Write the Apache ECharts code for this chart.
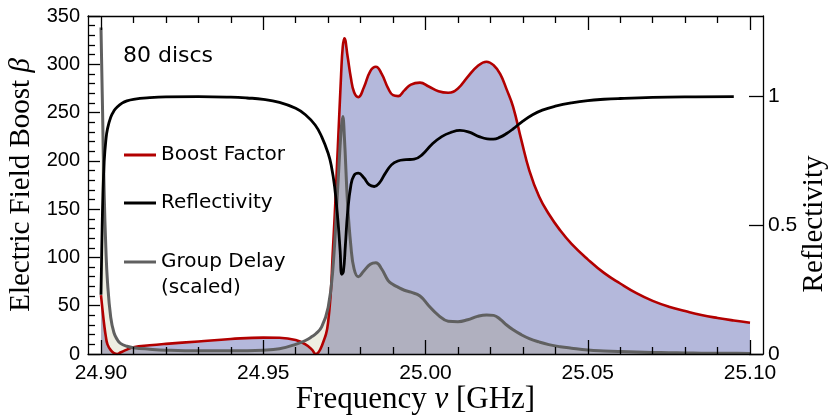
<!DOCTYPE html>
<html>
<head>
<meta charset="utf-8">
<script src="https://cdn.jsdelivr.net/npm/echarts@6/dist/echarts.min.js"></script>
<style>
  html, body { margin: 0; padding: 0; background: #ffffff; }
  #chart { width: 829px; height: 415px; }
</style>
</head>
<body>
<div id="chart"></div>
<script>
// Frequency grid (GHz) shared by the boost factor and the group delay
const freq = [24.9000, 24.9005, 24.9010, 24.9015, 24.9020, 24.9030, 24.9040, 24.9050, 24.9060, 24.9080,
  24.9100, 24.9150, 24.9200, 24.9300, 24.9400, 24.9500, 24.9550, 24.9600, 24.9630, 24.9650,
  24.9662, 24.9680, 24.9700, 24.9715, 24.9730, 24.9740, 24.9745, 24.9750, 24.9760, 24.9770,
  24.9780, 24.9793, 24.9810, 24.9830, 24.9847, 24.9865, 24.9885, 24.9900, 24.9916, 24.9935,
  24.9955, 24.9983, 25.0010, 25.0040, 25.0070, 25.0100, 25.0130, 25.0160, 25.0188, 25.0210,
  25.0230, 25.0250, 25.0270, 25.0295, 25.0320, 25.0350, 25.0380, 25.0415, 25.0450, 25.0500,
  25.0550, 25.0600, 25.0650, 25.0700, 25.0750, 25.0800, 25.0850, 25.0900, 25.0950, 25.1000];

// Electric field boost factor beta
const boost = [61, 45, 30, 18, 10, 4, 1, 0, 1.5, 4.5,
  7, 9, 10.5, 13, 15.5, 17, 16.8, 14.5, 10, 4.5,
  0, 8, 33, 110, 215, 290, 318, 327, 308, 286,
  271, 266, 276, 293, 297.5, 290, 275, 268, 267, 273,
  279, 281, 277, 272, 270.5, 275, 287, 298, 302.7, 299,
  290, 274, 256, 222, 190, 163, 145, 128, 114, 98,
  84, 73, 63, 55, 49, 44.5, 40.4, 37.3, 34.7, 32.4];

// Group delay, scaled onto the boost axis
const groupDelay = [338, 250, 165, 110, 75, 38, 22, 15, 11, 8,
  6.5, 5, 4, 3.3, 3.3, 4, 5.5, 10, 14, 18,
  21, 28, 48, 90, 175, 232, 246, 225, 155, 112,
  88, 80, 86, 93, 94.5, 88, 76, 72, 69, 66,
  64, 60, 50, 40, 34, 33.5, 35.5, 39, 40.5, 40,
  36, 30, 25, 20, 16, 12.5, 9.7, 7.5, 6, 4.2,
  3.2, 2.5, 2, 1.6, 1.3, 1.1, 0.9, 0.8, 0.7, 0.6];

// Reflectivity (right axis)
const reflFreq = [24.9000, 24.9003, 24.9006, 24.9010, 24.9015, 24.9020, 24.9030, 24.9040, 24.9050, 24.9065,
  24.9080, 24.9100, 24.9150, 24.9200, 24.9300, 24.9400, 24.9450, 24.9500, 24.9550, 24.9600,
  24.9630, 24.9660, 24.9680, 24.9700, 24.9710, 24.9720, 24.9730, 24.9737, 24.9742, 24.9747,
  24.9753, 24.9760, 24.9770, 24.9780, 24.9793, 24.9810, 24.9826, 24.9842, 24.9858, 24.9875,
  24.9895, 24.9915, 24.9940, 24.9965, 24.9990, 25.0020, 25.0050, 25.0080, 25.0106, 25.0135,
  25.0165, 25.0190, 25.0209, 25.0230, 25.0250, 25.0270, 25.0300, 25.0330, 25.0360, 25.0400,
  25.0450, 25.0500, 25.0550, 25.0600, 25.0700, 25.0800, 25.0950];
const reflectivity = [0.23, 0.45, 0.62, 0.75, 0.83, 0.875, 0.92, 0.945, 0.96, 0.975,
  0.984, 0.99, 0.996, 0.999, 1.0, 0.998, 0.995, 0.99, 0.978, 0.955,
  0.93, 0.89, 0.845, 0.78, 0.73, 0.65, 0.52, 0.40, 0.31, 0.32,
  0.42, 0.55, 0.655, 0.695, 0.703, 0.685, 0.658, 0.651, 0.665, 0.70,
  0.735, 0.75, 0.755, 0.757, 0.775, 0.815, 0.845, 0.862, 0.869, 0.862,
  0.845, 0.836, 0.835, 0.843, 0.857, 0.875, 0.905, 0.93, 0.948, 0.963,
  0.976, 0.985, 0.99, 0.993, 0.997, 0.999, 1.0];

// Tick positions
const xTicks = [24.90, 24.95, 25.00, 25.05, 25.10];
const xMinorTicks = [24.91, 24.92, 24.93, 24.94, 24.96, 24.97, 24.98, 24.99,
  25.01, 25.02, 25.03, 25.04, 25.06, 25.07, 25.08, 25.09];
const reflTicks = [0, 0.5, 1];

const pairs = (xs, ys) => xs.map((x, i) => [x, ys[i]]);
// part of the group delay that lies under the boost curve
const overlap = freq.map((f, i) => Math.min(boost[i], groupDelay[i]));

const X_MIN = 24.896, X_MAX = 25.104;
const BETA_MAX = 350, REFL_MAX = 1.3136;
const SMOOTH = 0.45;

const AXIS_COLOR = '#000000';
const tickFont = { fontFamily: 'Liberation Sans', fontSize: 21, color: '#000000' };
const titleFont = { fontFamily: 'Liberation Serif', fontSize: 29, color: '#000000' };
const legendFont = { fontFamily: 'DejaVu Sans', fontSize: 20, color: '#000000', lineHeight: 24 };

function xAxisLayer(position, values, tickLen, showLine, showLabels) {
  return {
    type: 'value', position: position, min: X_MIN, max: X_MAX, z: 10,
    axisLine: { show: showLine, lineStyle: { color: AXIS_COLOR, width: 1.3 } },
    axisTick: { show: true, inside: true, length: tickLen, customValues: values,
      lineStyle: { color: AXIS_COLOR, width: 1.3 } },
    axisLabel: showLabels ? Object.assign({ show: true, customValues: values, margin: 9,
      formatter: v => v.toFixed(2) }, tickFont) : { show: false },
    splitLine: { show: false }
  };
}

const xTitleFont = Object.assign({}, titleFont, { fontSize: 31 });
const xAxes = [
  Object.assign(xAxisLayer('bottom', xTicks, 14, true, true), {
    name: '{a|Frequency }{i|ν}{a| [GHz]}', nameLocation: 'middle', nameGap: 30,
    nameMoveOverlap: false,
    nameTextStyle: { padding: [0, 20, 0, 0],
      rich: { a: xTitleFont, i: Object.assign({}, xTitleFont, { fontStyle: 'italic' }) } }
  }),
  xAxisLayer('bottom', xMinorTicks, 7, false, false),
  xAxisLayer('top', xTicks, 14, true, false),
  xAxisLayer('top', xMinorTicks, 7, false, false)
];

const yAxes = [
  {
    type: 'value', position: 'left', min: 0, max: BETA_MAX, interval: 50, z: 10,
    name: '{a|Electric Field Boost }{i|β}', nameLocation: 'middle', nameGap: 52, nameRotate: 90,
    nameMoveOverlap: false,
    nameTextStyle: { rich: { a: titleFont, i: Object.assign({}, titleFont, { fontStyle: 'italic' }) } },
    axisLine: { show: true, lineStyle: { color: AXIS_COLOR, width: 1.3 } },
    axisTick: { show: true, inside: true, length: 12, lineStyle: { color: AXIS_COLOR, width: 1.3 } },
    minorTick: { show: true, splitNumber: 5, length: 7, lineStyle: { color: AXIS_COLOR, width: 1.3 } },
    axisLabel: Object.assign({ margin: 8 }, tickFont, { fontSize: 20 }),
    splitLine: { show: false }, minorSplitLine: { show: false }
  },
  {
    type: 'value', position: 'right', min: 0, max: REFL_MAX, z: 10,
    name: 'Reflectivity', nameLocation: 'middle', nameGap: 37, nameRotate: 90,
    nameMoveOverlap: false,
    // centred on the 0–1 span rather than the full axis height
    nameTextStyle: Object.assign({ padding: [0, 78, 0, 0] }, titleFont),
    axisLine: { show: true, lineStyle: { color: AXIS_COLOR, width: 1.3 } },
    axisTick: { show: true, inside: true, length: 14, customValues: reflTicks,
      lineStyle: { color: AXIS_COLOR, width: 1.3 } },
    axisLabel: Object.assign({ margin: 5, customValues: reflTicks, formatter: v => String(v) }, tickFont),
    splitLine: { show: false }
  }
];

function fillSeries(name, data, color, z) {
  return {
    name: name, type: 'line', data: data, xAxisIndex: 0, yAxisIndex: 0, z: z,
    smooth: SMOOTH, symbol: 'none', silent: true,
    lineStyle: { width: 0, opacity: 0 },
    areaStyle: { color: color, opacity: 1 }
  };
}

function curveSeries(name, xs, ys, color, width, yIndex, z) {
  return {
    name: name, type: 'line', data: pairs(xs, ys), xAxisIndex: 0, yAxisIndex: yIndex, z: z,
    smooth: SMOOTH, symbol: 'none', silent: true,
    itemStyle: { color: color },
    lineStyle: { color: color, width: width, cap: 'butt', join: 'round' }
  };
}

function legendAt(name, top) {
  return {
    data: [name], left: 124, top: top, orient: 'vertical', selectedMode: false,
    icon: 'rect', itemWidth: 32, itemHeight: 3, itemGap: 0, padding: 0,
    textStyle: legendFont
  };
}

const chart = echarts.init(document.getElementById('chart'), null, { renderer: 'canvas' });
chart.setOption({
  animation: false,
  backgroundColor: '#ffffff',
  grid: { left: 88, right: 66, top: 16, bottom: 61, containLabel: false, outerBoundsMode: 'none' },
  xAxis: xAxes,
  yAxis: yAxes,
  legend: [
    legendAt('Boost Factor', 143),
    legendAt('Reflectivity', 191),
    legendAt('Group Delay', 250)
  ],
  graphic: [
    { type: 'text', left: 123, top: 45, z: 20,
      style: { text: '80 discs', font: '22px "DejaVu Sans"', fill: '#000000' } },
    { type: 'text', left: 161, top: 278, z: 20,
      style: { text: '(scaled)', font: '20px "DejaVu Sans"', fill: '#000000' } }
  ],
  series: [
    fillSeries('gdFill', pairs(freq, groupDelay), '#eeeee2', 1),
    fillSeries('boostFill', pairs(freq, boost), '#b4b8db', 2),
    fillSeries('overlapFill', pairs(freq, overlap), '#b0b0bf', 3),
    curveSeries('Boost Factor', freq, boost, '#b20000', 2.6, 0, 4),
    curveSeries('Group Delay', freq, groupDelay, '#606060', 3, 0, 5),
    curveSeries('Reflectivity', reflFreq, reflectivity, '#000000', 2.8, 1, 6)
  ]
});
</script>
</body>
</html>
